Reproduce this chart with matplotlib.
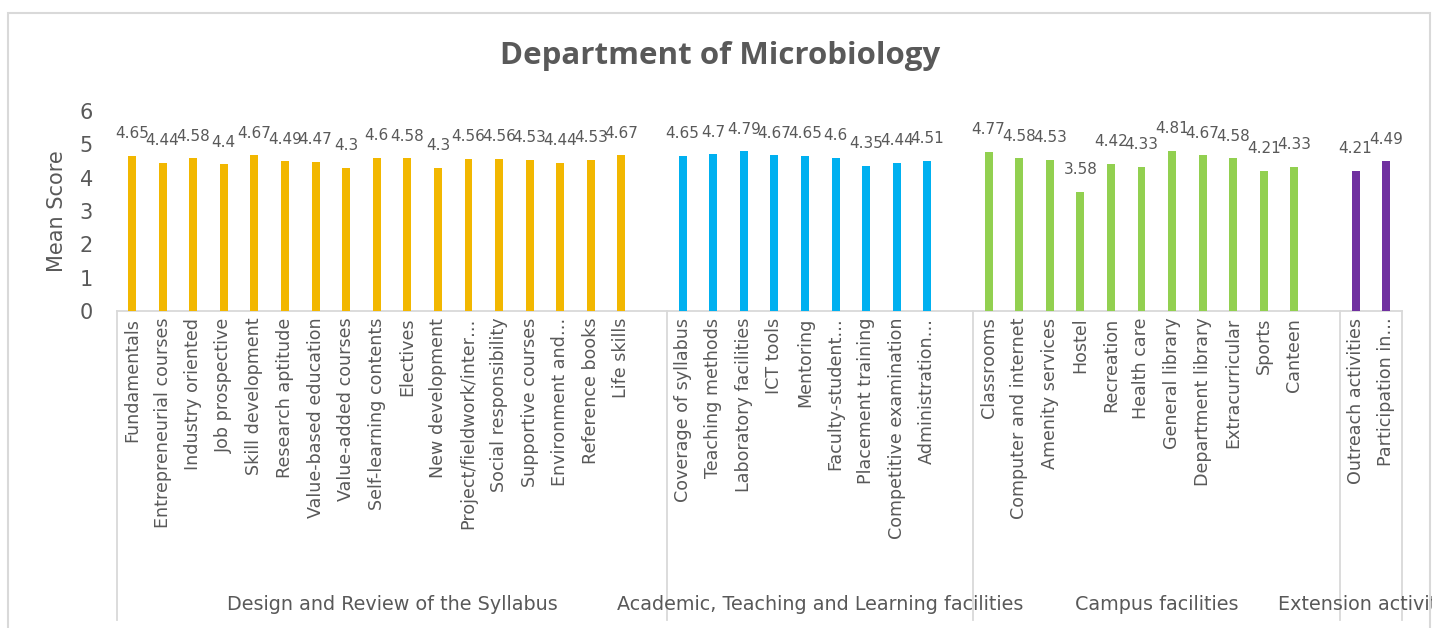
import matplotlib
matplotlib.use("Agg")
import matplotlib.pyplot as plt
from matplotlib.patches import Rectangle
from matplotlib.lines import Line2D
import matplotlib.transforms as mtransforms

# data
syllabus_items = ['Fundamentals', 'Entrepreneurial courses', 'Industry oriented', 'Job prospective',
                  'Skill development', 'Research aptitude', 'Value-based education', 'Value-added courses',
                  'Self-learning contents', 'Electives', 'New development', 'Project/fieldwork/inter\u2026',
                  'Social responsibility', 'Supportive courses', 'Environment and\u2026', 'Reference books',
                  'Life skills']
syllabus_scores = [4.65, 4.44, 4.58, 4.4, 4.67, 4.49, 4.47, 4.3, 4.6, 4.58, 4.3, 4.56, 4.56, 4.53, 4.44, 4.53, 4.67]

academic_items = ['Coverage of syllabus', 'Teaching methods', 'Laboratory facilities', 'ICT tools',
                  'Mentoring', 'Faculty-student\u2026', 'Placement training', 'Competitive examination',
                  'Administration\u2026']
academic_scores = [4.65, 4.7, 4.79, 4.67, 4.65, 4.6, 4.35, 4.44, 4.51]

campus_items = ['Classrooms', 'Computer and internet', 'Amenity services', 'Hostel', 'Recreation',
                'Health care', 'General library', 'Department library', 'Extracurricular', 'Sports', 'Canteen']
campus_scores = [4.77, 4.58, 4.53, 3.58, 4.42, 4.33, 4.81, 4.67, 4.58, 4.21, 4.33]

extension_items = ['Outreach activities', 'Participation in\u2026']
extension_scores = [4.21, 4.49]

group_names = ['Design and Review of the Syllabus', 'Academic, Teaching and Learning facilities',
               'Campus facilities', 'Extension activities']
group_colors = ['#F2B700', '#00B0F0', '#92D050', '#7030A0']

TXT = '#595959'
GRID = '#D9D9D9'

fig = plt.figure(figsize=(14.32, 6.28), dpi=100)
W, H = 1432.0, 628.0

# axes placed in pixel terms
x_left, x_right = 116.7, 1401.5
y_zero, y_top = 311.0, 111.0
ax = fig.add_axes([x_left / W, (H - y_zero) / H, (x_right - x_left) / W, (y_zero - y_top) / H])

groups = [(syllabus_items, syllabus_scores), (academic_items, academic_scores),
          (campus_items, campus_scores), (extension_items, extension_scores)]

pos = 0
bounds = [0]
for gi, (items, scores) in enumerate(groups):
    xs = [pos + i for i in range(len(items))]
    ax.bar(xs, scores, width=0.26, color=group_colors[gi], zorder=3)
    for x, v in zip(xs, scores):
        ax.annotate('{:g}'.format(v), (x, v), xytext=(0, 16), textcoords='offset points',
                    ha='center', va='center', fontsize=11, color=TXT, family='DejaVu Sans')
    for x, name in zip(xs, items):
        ax.text(x, -0.2, name, rotation=90, ha='center', va='top', fontsize=12.6, color=TXT,
                family='DejaVu Sans')
    pos += len(items)
    if gi < len(groups) - 1:
        pos += 1  # empty slot closes each group
    bounds.append(pos)

ax.set_xlim(-0.5, pos - 0.5)
ax.set_ylim(0, 6)
ax.set_yticks(range(7))
ax.tick_params(axis='y', length=0, pad=17, labelsize=15, labelcolor=TXT)
ax.set_xticks([])
for s in ['top', 'right', 'left']:
    ax.spines[s].set_visible(False)
ax.spines['bottom'].set_color(GRID)
ax.spines['bottom'].set_linewidth(1.3)
ax.set_ylabel('Mean Score', fontsize=15, color=TXT, labelpad=9)

# group dividers and group names under the category labels
trans = mtransforms.blended_transform_factory(ax.transData, ax.transAxes)
y_bot = (y_zero - 620.0) / (y_zero - y_top)
for b in bounds:
    ax.add_line(Line2D([b - 0.5, b - 0.5], [0, y_bot], transform=trans, color=GRID,
                       linewidth=1.3, clip_on=False))
y_grp = (y_zero - 605.0) / (y_zero - y_top)
for gi, name in enumerate(group_names):
    xc = (bounds[gi] + bounds[gi + 1]) / 2.0 - 0.5
    ax.text(xc, y_grp, name, transform=trans, ha='center', va='center', fontsize=13.8, color=TXT,
            family='DejaVu Sans')

fig.text(720 / W, 1 - 56 / H, 'Department of Microbiology', ha='center', va='center',
         fontsize=22.5, fontweight='bold', color=TXT, family=['Open Sans', 'DejaVu Sans'])

# outer chart border
fig.add_artist(Rectangle((7.7 / W, -0.05), (1430 - 7.7) / W, 1.05 - 12.7 / H, transform=fig.transFigure,
                         fill=False, edgecolor=GRID, linewidth=1.5))

fig.savefig('out.png', dpi=100)
